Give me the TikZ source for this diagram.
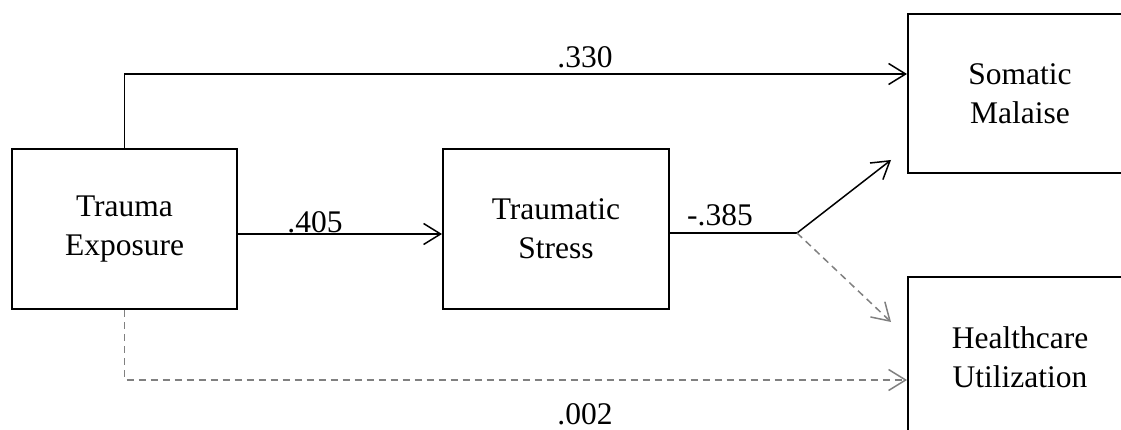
\documentclass[tikz,border=0pt]{standalone}
\usepackage{fontspec}
\setmainfont{Liberation Serif}
\usetikzlibrary{arrows.meta,calc}
\begin{document}
\begin{tikzpicture}[x=1pt,y=-1pt,
  varbox/.style={draw,line width=2pt,inner sep=0pt,align=center,
    font=\fontsize{31.5}{39}\selectfont},
  lbl/.style={inner sep=0pt,font=\fontsize{31.5}{39}\selectfont},
  path/.style={line width=1.5pt,-{Straight Barb[length=17pt,width=21pt,line width=1.5pt]}},
  nspath/.style={path,draw=black!50,dash pattern=on 7pt off 5pt}]
\useasboundingbox (0,0) rectangle (1121,430);
\clip (0,0) rectangle (1121,430);

% variables
\node[varbox,minimum width=225pt,minimum height=160pt] (te) at (124.5,229) {Trauma\\Exposure};
\node[varbox,minimum width=226pt,minimum height=160pt] (ts) at (556,229) {Traumatic\\Stress};
\node[varbox,minimum width=224pt,minimum height=159pt] (sm) at (1020,93.5) {Somatic\\Malaise};
\node[varbox,minimum width=224pt,minimum height=161pt] (hc) at (1020,357.5) {Healthcare\\Utilization};

% branch point after Traumatic Stress
\coordinate (j) at (797,233);
\coordinate (smtip) at ([shift={(-16,-14)}]sm.south west);
\coordinate (hctip) at ([shift={(-16,46)}]hc.north west);

% paths
\draw[path] (te.north) |- ([yshift=19.5pt]sm.west);
\draw[path] ([yshift=-5pt]te.east) -- ([yshift=-5pt]ts.west);
\draw[line width=1.5pt] ([yshift=-4pt]ts.east) -- (j);
\draw[path] (j) -- (smtip);
\draw[nspath] (j) -- (hctip);
\draw[nspath] (te.south) |- ([yshift=-22.5pt]hc.west);

% coefficients
\node[lbl] (c330) at (585,57) {.330};
\node[lbl] (c405) at (315,222) {.405};
\node[lbl] (c385) at (720,215) {-.385};
\node[lbl] (c002) at (585,414) {.002};
\end{tikzpicture}
\end{document}
